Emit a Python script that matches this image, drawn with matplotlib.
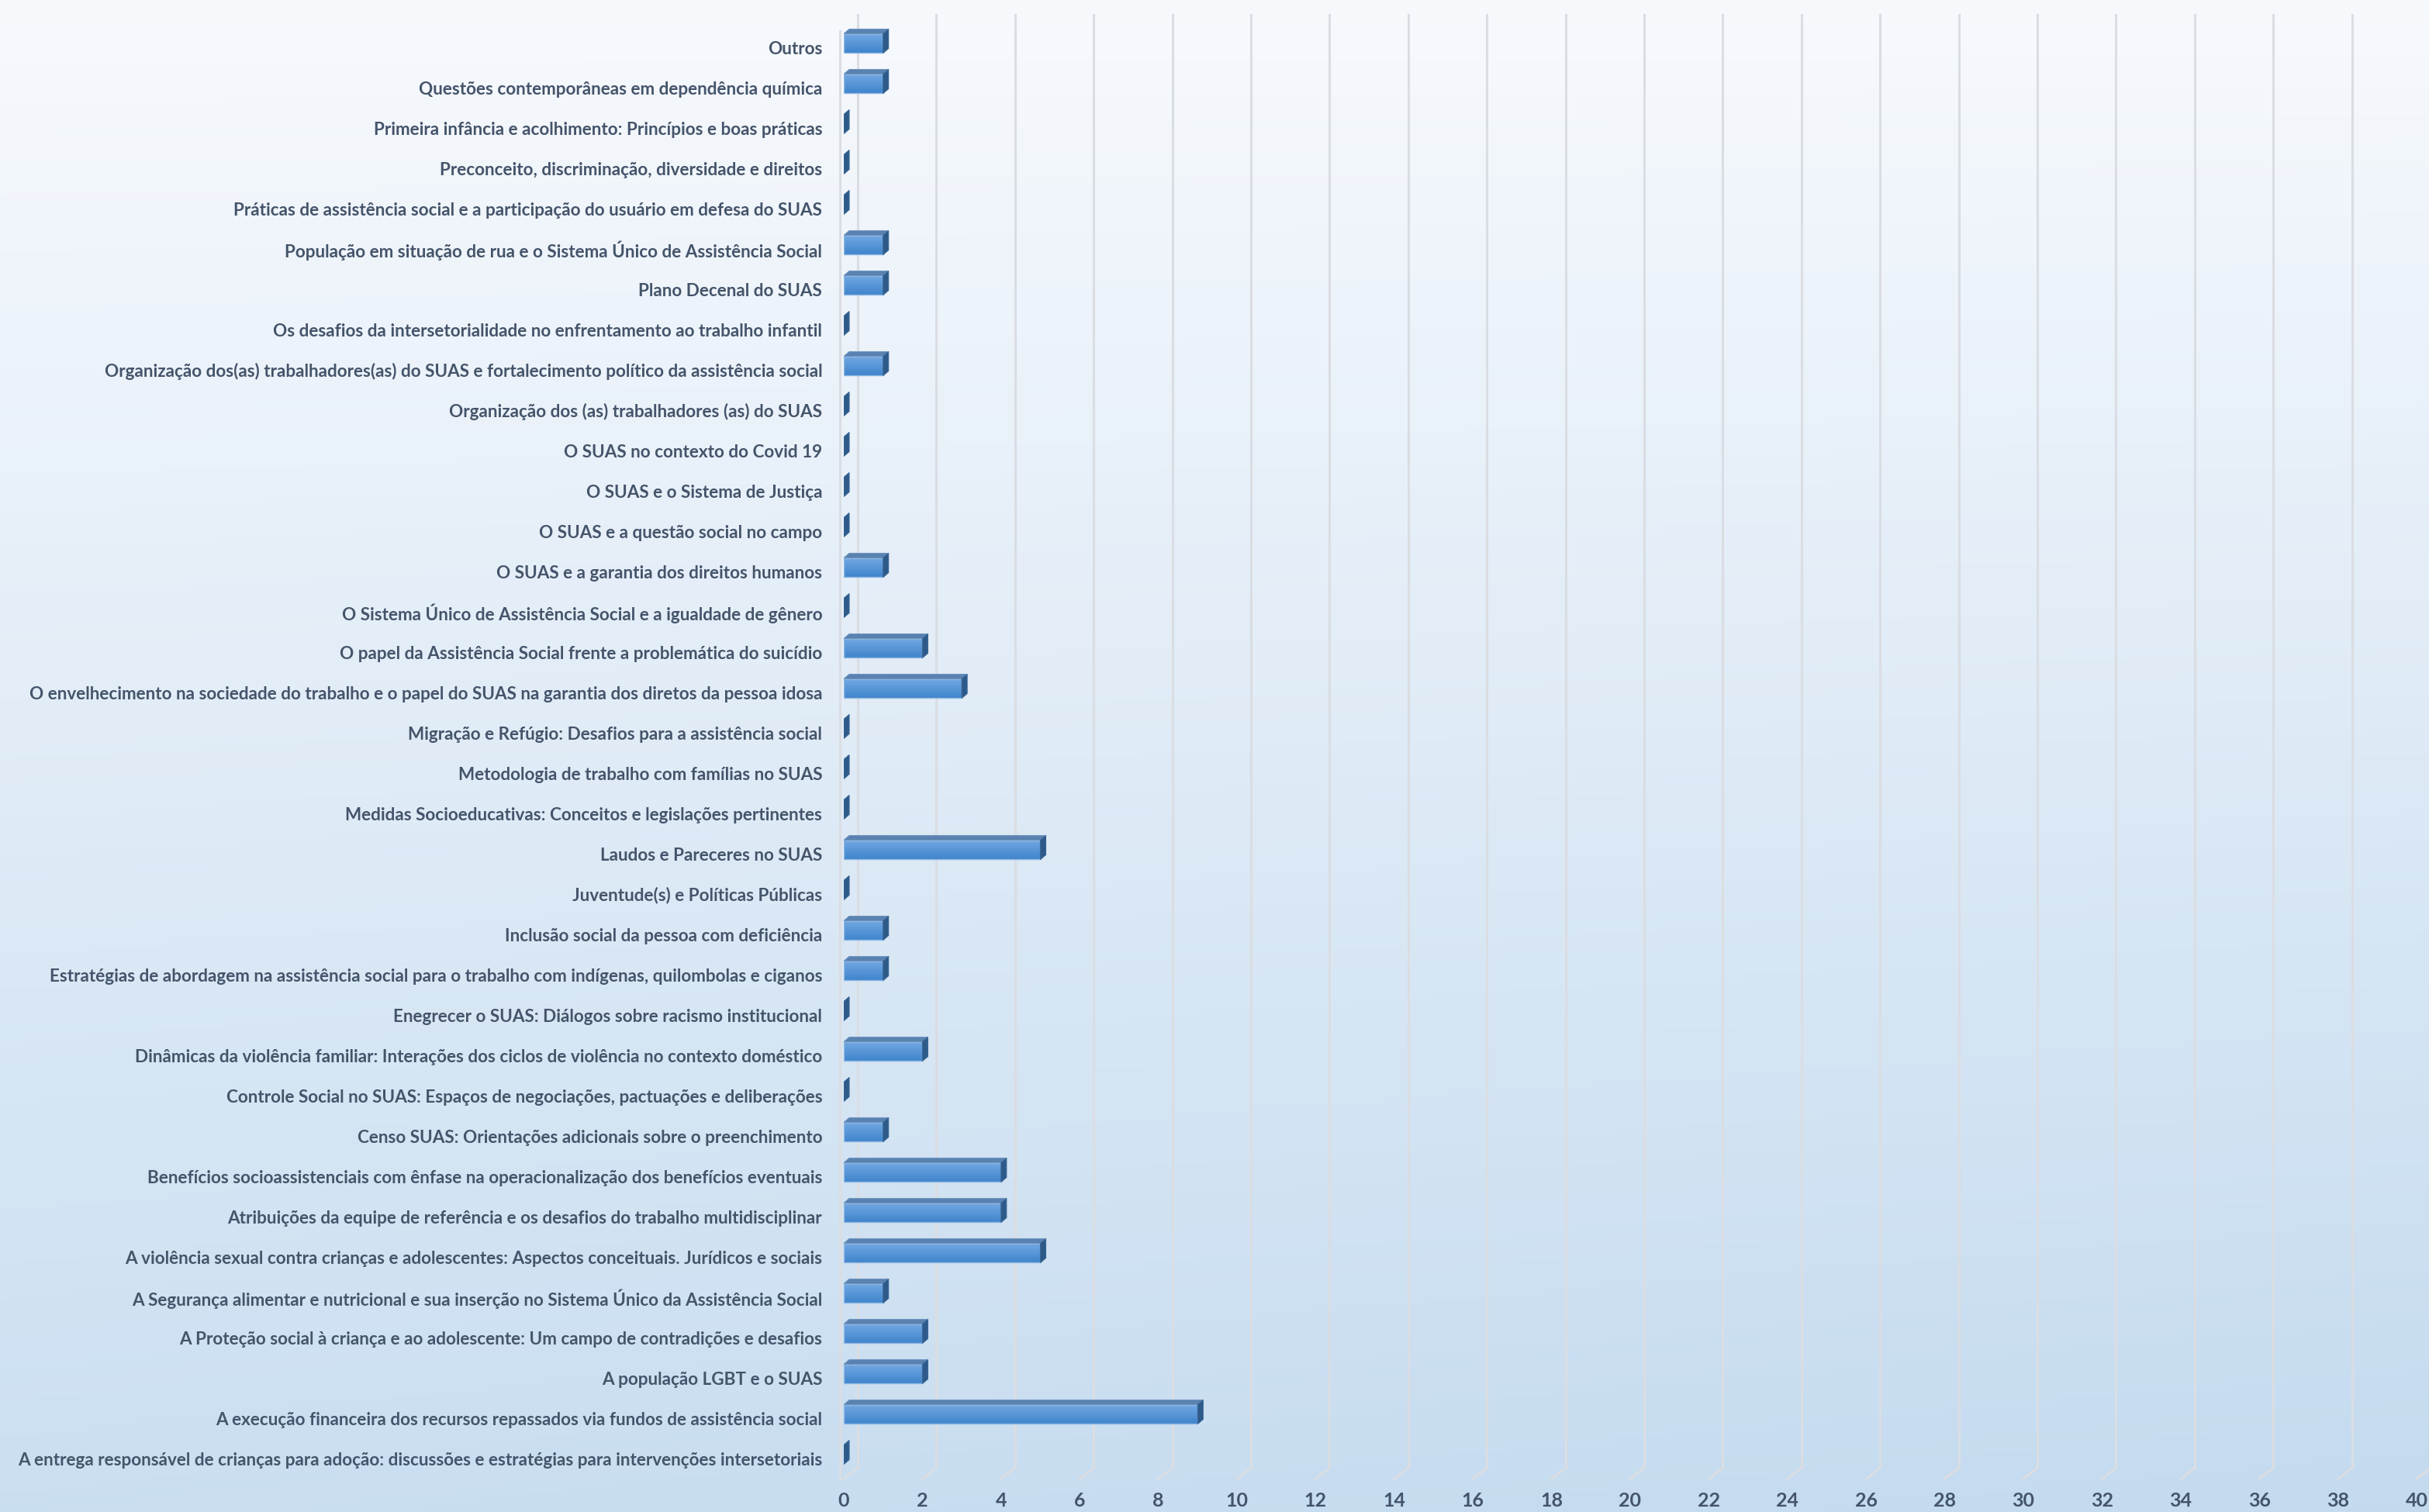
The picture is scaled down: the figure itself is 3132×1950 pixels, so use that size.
import numpy as np
import matplotlib
matplotlib.use('Agg')
import matplotlib.pyplot as plt
from matplotlib.patches import Polygon
from matplotlib.transforms import ScaledTranslation, IdentityTransform

# categories listed top to bottom as in the chart
categories = [
    'Outros',
    'Questões contemporâneas em dependência química',
    'Primeira infância e acolhimento: Princípios e boas práticas',
    'Preconceito, discriminação, diversidade e direitos',
    'Práticas de assistência social e a participação do usuário em defesa do SUAS',
    'População em situação de rua e o Sistema Único de Assistência Social',
    'Plano Decenal do SUAS',
    'Os desafios da intersetorialidade no enfrentamento ao trabalho infantil',
    'Organização dos(as) trabalhadores(as) do SUAS e fortalecimento político da assistência social',
    'Organização dos (as) trabalhadores (as) do SUAS',
    'O SUAS no contexto do Covid 19',
    'O SUAS e o Sistema de Justiça',
    'O SUAS e a questão social no campo',
    'O SUAS e a garantia dos direitos humanos',
    'O Sistema Único de Assistência Social e a igualdade de gênero',
    'O papel da Assistência Social frente a problemática do suicídio',
    'O envelhecimento na sociedade do trabalho e o papel do SUAS na garantia dos diretos da pessoa idosa',
    'Migração e Refúgio: Desafios para a assistência social',
    'Metodologia de trabalho com famílias no SUAS',
    'Medidas Socioeducativas: Conceitos e legislações pertinentes',
    'Laudos e Pareceres no SUAS',
    'Juventude(s) e Políticas Públicas',
    'Inclusão social da pessoa com deficiência',
    'Estratégias de abordagem na assistência social para o trabalho com indígenas, quilombolas e ciganos',
    'Enegrecer o SUAS: Diálogos sobre racismo institucional',
    'Dinâmicas da violência familiar: Interações dos ciclos de violência no contexto doméstico',
    'Controle Social no SUAS: Espaços de negociações, pactuações e deliberações',
    'Censo SUAS: Orientações adicionais sobre o preenchimento',
    'Benefícios socioassistenciais com ênfase na operacionalização dos benefícios eventuais',
    'Atribuições da equipe de referência e os desafios do trabalho multidisciplinar',
    'A violência sexual contra crianças e adolescentes: Aspectos conceituais. Jurídicos e sociais',
    'A Segurança alimentar e nutricional e sua inserção no Sistema Único da Assistência Social',
    'A Proteção social à criança e ao adolescente: Um campo de contradições e desafios',
    'A população LGBT e o SUAS',
    'A execução financeira dos recursos repassados via fundos de assistência social',
    'A entrega responsável de crianças para adoção: discussões e estratégias para intervenções intersetoriais',
]
values = [1, 1, 0, 0, 0, 1, 1, 0, 1, 0, 0, 0, 0, 1, 0, 2, 3, 0, 0, 0,
          5, 0, 1, 1, 0, 2, 0, 1, 4, 4, 5, 1, 2, 2, 9, 0]
xticks = list(range(0, 41, 2))

W, H, DPI = 3132, 1950, 100
plt.rcParams['font.family'] = ['Lato', 'DejaVu Sans']
txt_color = '#44546A'

fig = plt.figure(figsize=(W / DPI, H / DPI), dpi=DPI)

# background gradient
bg = fig.add_axes([0, 0, 1, 1], zorder=0)
yy = np.linspace(0, 1, 300)[:, None]
xx = np.linspace(0, 1, 300)[None, :]
t = np.clip(0.85 * yy + 0.15 * xx * yy, 0, 1)
c0 = np.array([0.968, 0.978, 0.992])
c1 = np.array([0.765, 0.855, 0.937])
img = c0[None, None, :] * (1 - t[..., None]) + c1[None, None, :] * t[..., None]
bg.imshow(img, extent=[0, 1, 0, 1], aspect='auto', origin='upper')
bg.set_axis_off()

n = len(categories)
ax = fig.add_axes([1088 / W, 48 / H, 2028 / W, 1872 / H], zorder=1)
ax.patch.set_alpha(0)
ax.set_xlim(0, 40)
ax.set_ylim(-0.5, n - 0.5)
for s in ax.spines.values():
    s.set_visible(False)

ypos = np.arange(n)[::-1]

# 3d walls / gridlines
gx, gy = 18, 14
back = ax.transData + ScaledTranslation(gx / DPI, gy / DPI, fig.dpi_scale_trans)
floor = -0.6
grid_kw = dict(color='#DADDE2', lw=2.2, clip_on=False, zorder=1)
for tk in xticks:
    ax.plot([tk, tk], [floor, n - 0.55], transform=back, **grid_kw)
    p0 = back.transform((tk, floor))
    p1 = ax.transData.transform((tk, floor))
    ax.plot([p0[0], p1[0]], [p0[1], p1[1]], transform=IdentityTransform(), **grid_kw)
ax.plot([-0.1, -0.1], [floor, n - 0.7], **grid_kw)

# bars
h = 0.48
bx, by = 7, 6
grad = np.linspace(0, 1, 100)[:, None]
ftop = np.array([0.45, 0.66, 0.89])
fbot = np.array([0.25, 0.52, 0.80])
face = ftop[None, None, :] * (1 - grad[..., None]) + fbot[None, None, :] * grad[..., None]
for y, v in zip(ypos, values):
    y0, y1 = y - h / 2, y + h / 2
    tl = ax.transData.transform((0, y1))
    tr = ax.transData.transform((v, y1))
    br = ax.transData.transform((v, y0))
    if v > 0:
        im = ax.imshow(face, extent=[0, v, y0, y1], aspect='auto', origin='upper', zorder=3)
        rect = plt.Rectangle((0, y0), v, h, facecolor='none', edgecolor='#8DB6E2', lw=1.0, zorder=4)
        ax.add_patch(rect)
        im.set_clip_path(rect)
        top = Polygon([tl, tr, tr + [bx, by], tl + [bx, by]], closed=True,
                      facecolor='#5A82B0', edgecolor='#6F95C0', lw=0.8,
                      transform=IdentityTransform(), zorder=4)
        ax.add_patch(top)
    side = Polygon([br, tr, tr + [bx, by], br + [bx, by]], closed=True,
                   facecolor='#2D5A88', edgecolor='#3A6796', lw=0.8,
                   transform=IdentityTransform(), zorder=4)
    ax.add_patch(side)

# fit label font so the longest label spans like the reference (~1038 px)
probe = fig.text(0, 0, max(categories, key=len), fontsize=20, fontweight='bold')
wpx = probe.get_window_extent(renderer=fig.canvas.get_renderer()).width
probe.remove()
lab_fs = 20 * 1038 / wpx

ax.set_yticks(ypos)
ax.set_yticklabels(categories, fontsize=lab_fs, fontweight='bold', color=txt_color)
ax.set_xticks(xticks)
ax.set_xticklabels([str(v) for v in xticks], fontsize=18, fontweight='bold', color=txt_color)
ax.tick_params(axis='y', length=0, pad=20)
ax.tick_params(axis='x', length=0, pad=16)
for lab in ax.get_yticklabels():
    lab.set_transform(lab.get_transform() + ScaledTranslation(0, -5 / DPI, fig.dpi_scale_trans))

fig.savefig('out.png', dpi=DPI)
